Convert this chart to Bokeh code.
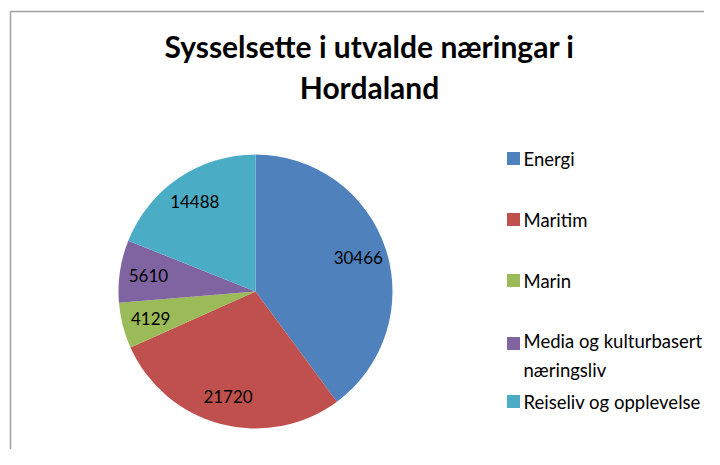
import numpy as np
from bokeh.plotting import figure
from bokeh.models import Range1d, Label, ColumnDataSource
from bokeh.core.properties import value
from bokeh.embed import file_html
from bokeh.resources import INLINE

# ---- data ----
categories = ["Energi", "Maritim", "Marin", "Media og kulturbasert næringsliv", "Reiseliv og opplevelse"]
legend_lines = ["Energi", "Maritim", "Marin", "Media og kulturbasert\nnæringsliv", "Reiseliv og opplevelse"]
values = [30466, 21720, 4129, 5610, 14488]
colors = ["#4F81BD", "#C0504D", "#9BBB59", "#8064A2", "#4BACC6"]
title_lines = ["Sysselsette i utvalde næringar i", "Hordaland"]

W, H = 704, 449
PAGE_H = 465
FONT = "Lato"

def sy(y):  # screen y -> data y
    return PAGE_H - y

p = figure(width=W, height=H, output_backend="svg", toolbar_location=None,
           x_range=Range1d(0, W), y_range=Range1d(PAGE_H - H, PAGE_H),
           x_axis_location=None, y_axis_location=None, min_border=0)
p.grid.visible = False
p.outline_line_color = None
p.background_fill_color = "white"

# chart frame (top & left edges)
p.segment(x0=[10, 10], y0=[sy(11), sy(11)], x1=[720, 10], y1=[sy(11), sy(470)],
          line_color="#a0a0a0", line_width=1.5)

# ---- pie ----
cx, cy, R = 255, sy(291), 137
vals = np.array(values, dtype=float)
frac = vals / vals.sum()
cum = np.concatenate([[0], np.cumsum(frac)])
start = np.pi / 2 - 2 * np.pi * cum[:-1]
end = np.pi / 2 - 2 * np.pi * cum[1:]
src = ColumnDataSource(dict(start=start, end=end, color=colors, cat=categories))
p.wedge(x=cx, y=cy, radius=R, start_angle="start", end_angle="end", direction="clock",
        fill_color="color", line_color=None, source=src)

mid = (start + end) / 2
lr = 0.79 * R
lab_src = ColumnDataSource(dict(x=cx + lr * np.cos(mid), y=cy + lr * np.sin(mid),
                                t=[str(v) for v in values]))
p.text(x="x", y="y", text="t", source=lab_src, text_font=value(FONT), text_font_size="17px",
       text_align="center", text_baseline="middle", text_color="#000000")

# ---- legend ----
leg_y = [158, 219, 280, 343, 401]
line_sp = 24
nlines = [t.count("\n") + 1 for t in legend_lines]
p.rect(x=[513] * 5, y=[sy(v) for v in leg_y], width=13, height=13, fill_color=colors, line_color=None)
p.text(x=[523] * 5, y=[sy(v + (n - 1) * line_sp / 2) for v, n in zip(leg_y, nlines)],
       text=legend_lines, text_font=value(FONT),
       text_font_size="18.5px", text_baseline="middle", text_align="left", text_color="#000000",
       text_line_height=line_sp / 18.5)

# ---- title ----
for i, t in enumerate(title_lines):
    p.add_layout(Label(x=369, y=sy(45 + 41 * i), text=t, text_font=FONT, text_font_size="30px",
                       text_font_style="bold", text_align="center", text_baseline="middle",
                       text_color="#000000"))

open("out.html", "w").write(file_html(p, INLINE))
